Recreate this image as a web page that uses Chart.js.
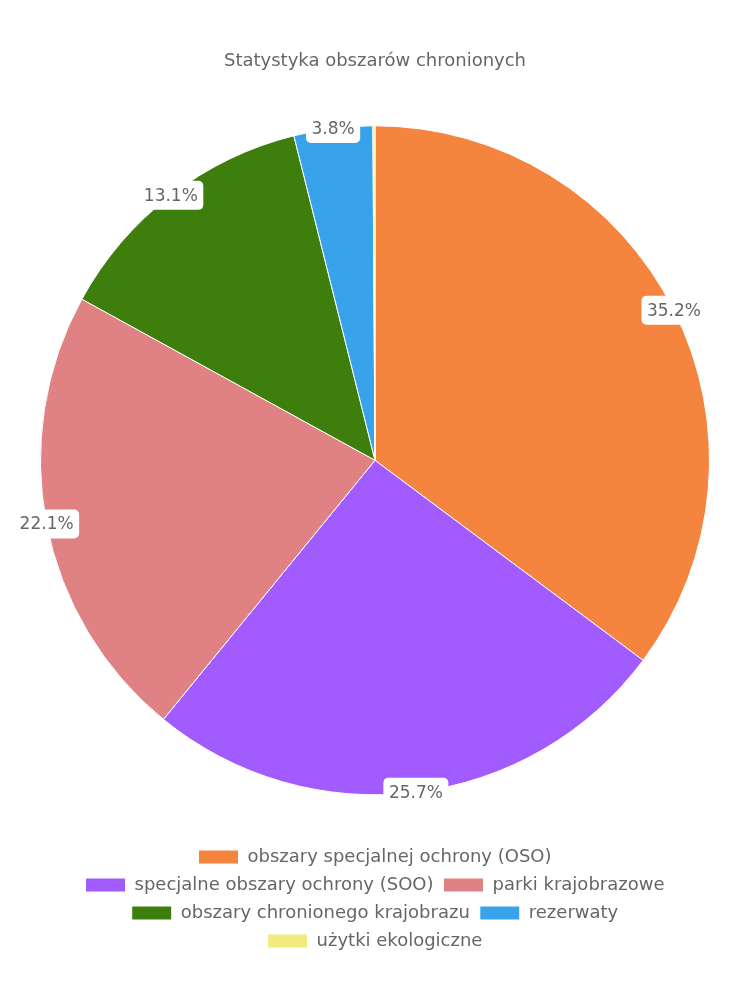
<!DOCTYPE html>
<html>
<head>
<meta charset="utf-8">
<script src="https://cdn.jsdelivr.net/npm/chart.js@4"></script>
<style>
html,body{margin:0;padding:0;background:#fff;}
#wrap{width:750px;height:1000px;}
</style>
</head>
<body>
<div id="wrap"><canvas id="c"></canvas></div>
<script>
const categories = ["obszary specjalnej ochrony (OSO)", "specjalne obszary ochrony (SOO)", "parki krajobrazowe", "obszary chronionego krajobrazu", "rezerwaty", "użytki ekologiczne"];
const values = [35.2, 25.7, 22.1, 13.1, 3.8, 0.1];
const colors = ["#F5843F", "#A25BFF", "#E08283", "#3E7E0C", "#38A3EB", "#F0EC7B"];
const titleText = "Statystyka obszarów chronionych";
const FONT = "'DejaVu Sans', sans-serif";

const edgeLabels = {
  id: 'edgeLabels',
  afterDatasetsDraw(chart) {
    const ctx = chart.ctx;
    const meta = chart.getDatasetMeta(0);
    const data = chart.data.datasets[0].data;
    const total = data.reduce((a, b) => a + b, 0);
    ctx.save();
    ctx.font = "17px " + FONT;
    ctx.textAlign = 'center';
    ctx.textBaseline = 'middle';
    meta.data.forEach((arc, i) => {
      const pct = data[i] / total * 100;
      if (pct < 1) return;
      const p = arc.getProps(['x', 'y', 'startAngle', 'endAngle', 'outerRadius'], true);
      const a = (p.startAngle + p.endAngle) / 2;
      const x = p.x + Math.cos(a) * p.outerRadius;
      const y = p.y + Math.sin(a) * p.outerRadius;
      const txt = pct.toFixed(1) + '%';
      const w = ctx.measureText(txt).width + 11;
      const h = 29;
      ctx.fillStyle = '#fff';
      ctx.beginPath();
      ctx.roundRect(x - w / 2, y - h / 2, w, h, 5);
      ctx.fill();
      ctx.fillStyle = '#666';
      ctx.fillText(txt, x, y + 1);
    });
    ctx.restore();
  }
};

new Chart(document.getElementById('c'), {
  type: 'pie',
  data: {
    labels: categories,
    datasets: [{
      data: values,
      backgroundColor: colors,
      borderColor: '#fff',
      borderWidth: 1
    }]
  },
  options: {
    responsive: true,
    maintainAspectRatio: false,
    animation: false,
    layout: { padding: { left: 40, right: 40, top: 0, bottom: 40 } },
    plugins: {
      title: {
        display: true,
        text: titleText,
        color: '#666',
        font: { family: FONT, size: 18, weight: 'normal' },
        padding: { top: 51, bottom: 10 }
      },
      legend: {
        position: 'bottom',
        labels: {
          color: '#666',
          font: { family: FONT, size: 18 },
          boxWidth: 40,
          boxHeight: 14,
          padding: 10
        }
      },
      tooltip: { enabled: false }
    }
  },
  plugins: [edgeLabels]
});
</script>
</body>
</html>
